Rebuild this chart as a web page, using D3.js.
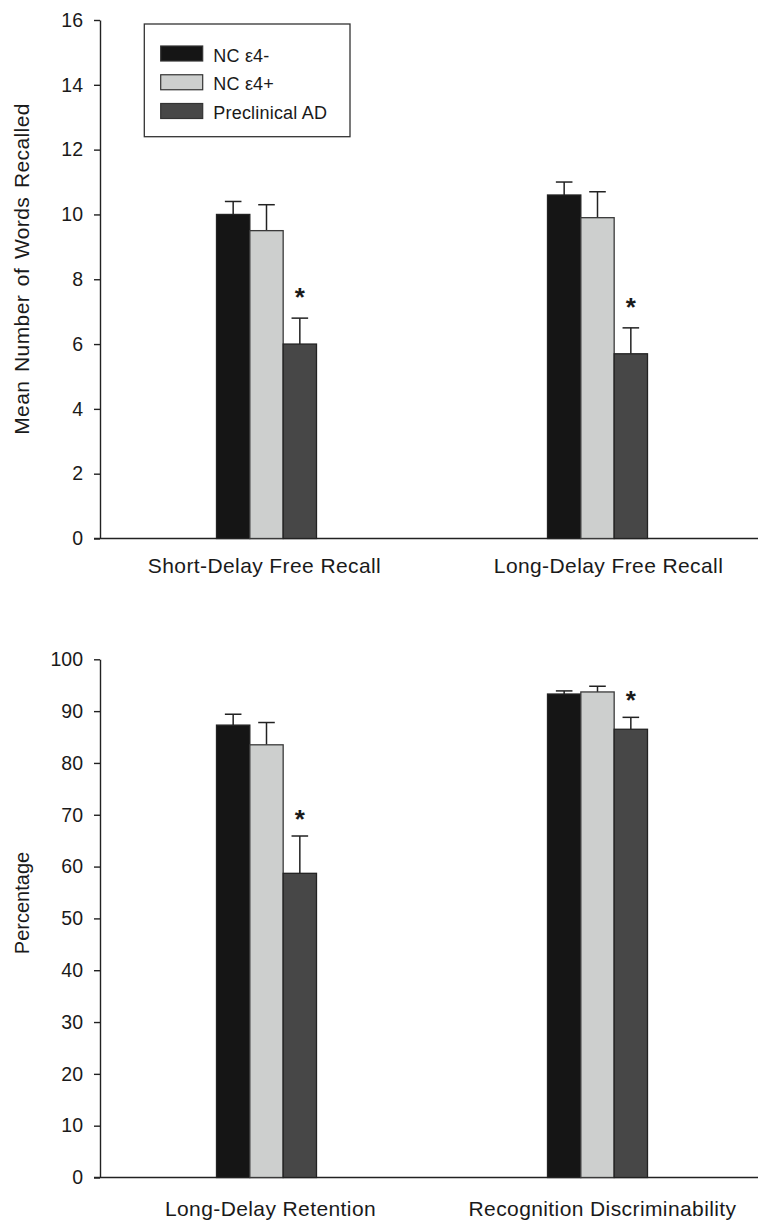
<!DOCTYPE html>
<html>
<head>
<meta charset="utf-8">
<script src="https://cdn.jsdelivr.net/npm/d3@7"></script>
<style>
  html, body { margin: 0; padding: 0; background: #fff; }
  svg { display: block; }
  text { font-family: "Liberation Sans", Arial, Helvetica, sans-serif; fill: #1a1a1a; }
</style>
</head>
<body>
<svg id="chart" width="758" height="1221"></svg>
<script>
// ---- data ----
const series = ["NC ε4-", "NC ε4+", "Preclinical AD"];
const seriesColors = ["#151515", "#cdcfce", "#474747"];

const topCategories = ["Short-Delay Free Recall", "Long-Delay Free Recall"];
const topMeans = [[10.0, 9.5, 6.0], [10.6, 9.9, 5.7]];
const topUpper = [[10.4, 10.3, 6.8], [11.0, 10.7, 6.5]];
const topSignificant = [[false, false, true], [false, false, true]];
const topTicks = [0, 2, 4, 6, 8, 10, 12, 14, 16];
const topTitle = "Mean Number of Words Recalled";

const bottomCategories = ["Long-Delay Retention", "Recognition Discriminability"];
const bottomMeans = [[87.3, 83.5, 58.7], [93.3, 93.7, 86.5]];
const bottomUpper = [[89.4, 87.8, 65.9], [93.9, 94.8, 88.8]];
const bottomSignificant = [[false, false, true], [false, false, true]];
const bottomTicks = [0, 10, 20, 30, 40, 50, 60, 70, 80, 90, 100];
const bottomTitle = "Percentage";

// ---- drawing ----
const svg = d3.select("#chart");
const axisX = 100;

function panel(cfg) {
  const g = svg.append("g");
  const y = d3.scaleLinear().domain([cfg.ticks[0], cfg.ticks[cfg.ticks.length - 1]]).range([cfg.y0, cfg.y1]);
  const x0 = d3.scaleBand().domain(cfg.categories).range([101, 763]);
  const x1 = d3.scaleBand().domain(series).range([0, 100]);

  // y axis
  const ax = g.append("g").attr("transform", `translate(${axisX},0)`)
    .call(d3.axisLeft(y).tickValues(cfg.ticks).tickSize(6).tickSizeOuter(0).tickPadding(11).tickFormat(d3.format("d")));
  ax.selectAll("path, line").attr("stroke", "#222").attr("stroke-width", 1.4);
  ax.selectAll("text").attr("font-size", "19.5px").attr("fill", "#1a1a1a")
    .style("font-family", '"Liberation Sans", Arial, sans-serif');

  // x axis line
  g.append("line").attr("x1", axisX - 6).attr("x2", 763).attr("y1", y(0)).attr("y2", y(0))
    .attr("stroke", "#222").attr("stroke-width", 1.6);

  // bars
  cfg.categories.forEach((c, ci) => {
    const left = x0(c) + x0.bandwidth() / 2 - 50;
    series.forEach((s, si) => {
      const bx = left + x1(s);
      const v = cfg.means[ci][si];
      const u = cfg.upper[ci][si];
      const cx = bx + x1.bandwidth() / 2;
      // error bar
      g.append("line").attr("x1", cx).attr("x2", cx).attr("y1", y(v)).attr("y2", y(u))
        .attr("stroke", "#222").attr("stroke-width", 1.5);
      g.append("line").attr("x1", cx - 8.3).attr("x2", cx + 8.3).attr("y1", y(u)).attr("y2", y(u))
        .attr("stroke", "#222").attr("stroke-width", 1.5);
      g.append("rect").attr("x", bx).attr("y", y(v)).attr("width", x1.bandwidth()).attr("height", y(0) - y(v))
        .attr("fill", seriesColors[si]).attr("stroke", si === 1 ? "#3a3a3a" : "#222").attr("stroke-width", 1.3);
      if (cfg.sig[ci][si]) {
        g.append("text").attr("x", cx).attr("y", y(u) - cfg.starGap).attr("text-anchor", "middle")
          .attr("font-size", "26px").attr("font-weight", "bold").text("*");
      }
    });
    g.append("text").attr("x", x0(c) + x0.bandwidth() / 2 + cfg.labelNudge[ci]).attr("y", y(0) + cfg.labelOffset)
      .attr("text-anchor", "middle").attr("font-size", "21px").attr("letter-spacing", "0.4px").text(c);
  });

  // y title
  g.append("text").attr("transform", `translate(28.5,${cfg.titleY}) rotate(-90)`)
    .attr("text-anchor", "middle").attr("font-size", cfg.titleSize).attr("letter-spacing", cfg.letterSpacing)
    .attr("word-spacing", cfg.wordSpacing).text(cfg.title);
  return y;
}

panel({ categories: topCategories, means: topMeans, upper: topUpper, sig: topSignificant,
  ticks: topTicks, title: topTitle, y0: 538.5, y1: 20, titleY: 269, starGap: 12,
  labelOffset: 34.5, labelNudge: [-2, 11], titleSize: "21px", letterSpacing: "0.4px", wordSpacing: "2.5px" });

panel({ categories: bottomCategories, means: bottomMeans, upper: bottomUpper, sig: bottomSignificant,
  ticks: bottomTicks, title: bottomTitle, y0: 1177.5, y1: 659.3, titleY: 903, starGap: 8,
  labelOffset: 38.5, labelNudge: [4, 5], titleSize: "20px", letterSpacing: "0px", wordSpacing: "0px" });

// legend
const leg = svg.append("g");
leg.append("rect").attr("x", 144.3).attr("y", 24).attr("width", 205.7).attr("height", 112.7)
  .attr("fill", "#fff").attr("stroke", "#333").attr("stroke-width", 1.3);
const legY = d3.scalePoint().domain(series).range([46, 103.5]);
series.forEach((s, i) => {
  leg.append("rect").attr("x", 160.7).attr("y", legY(s)).attr("width", 42).attr("height", 15)
    .attr("fill", seriesColors[i]).attr("stroke", "#333").attr("stroke-width", 1.2);
  leg.append("text").attr("x", 213.3).attr("y", legY(s) + 15.5).attr("font-size", "18px")
    .attr("letter-spacing", "0.2px").text(s);
});
</script>
</body>
</html>
